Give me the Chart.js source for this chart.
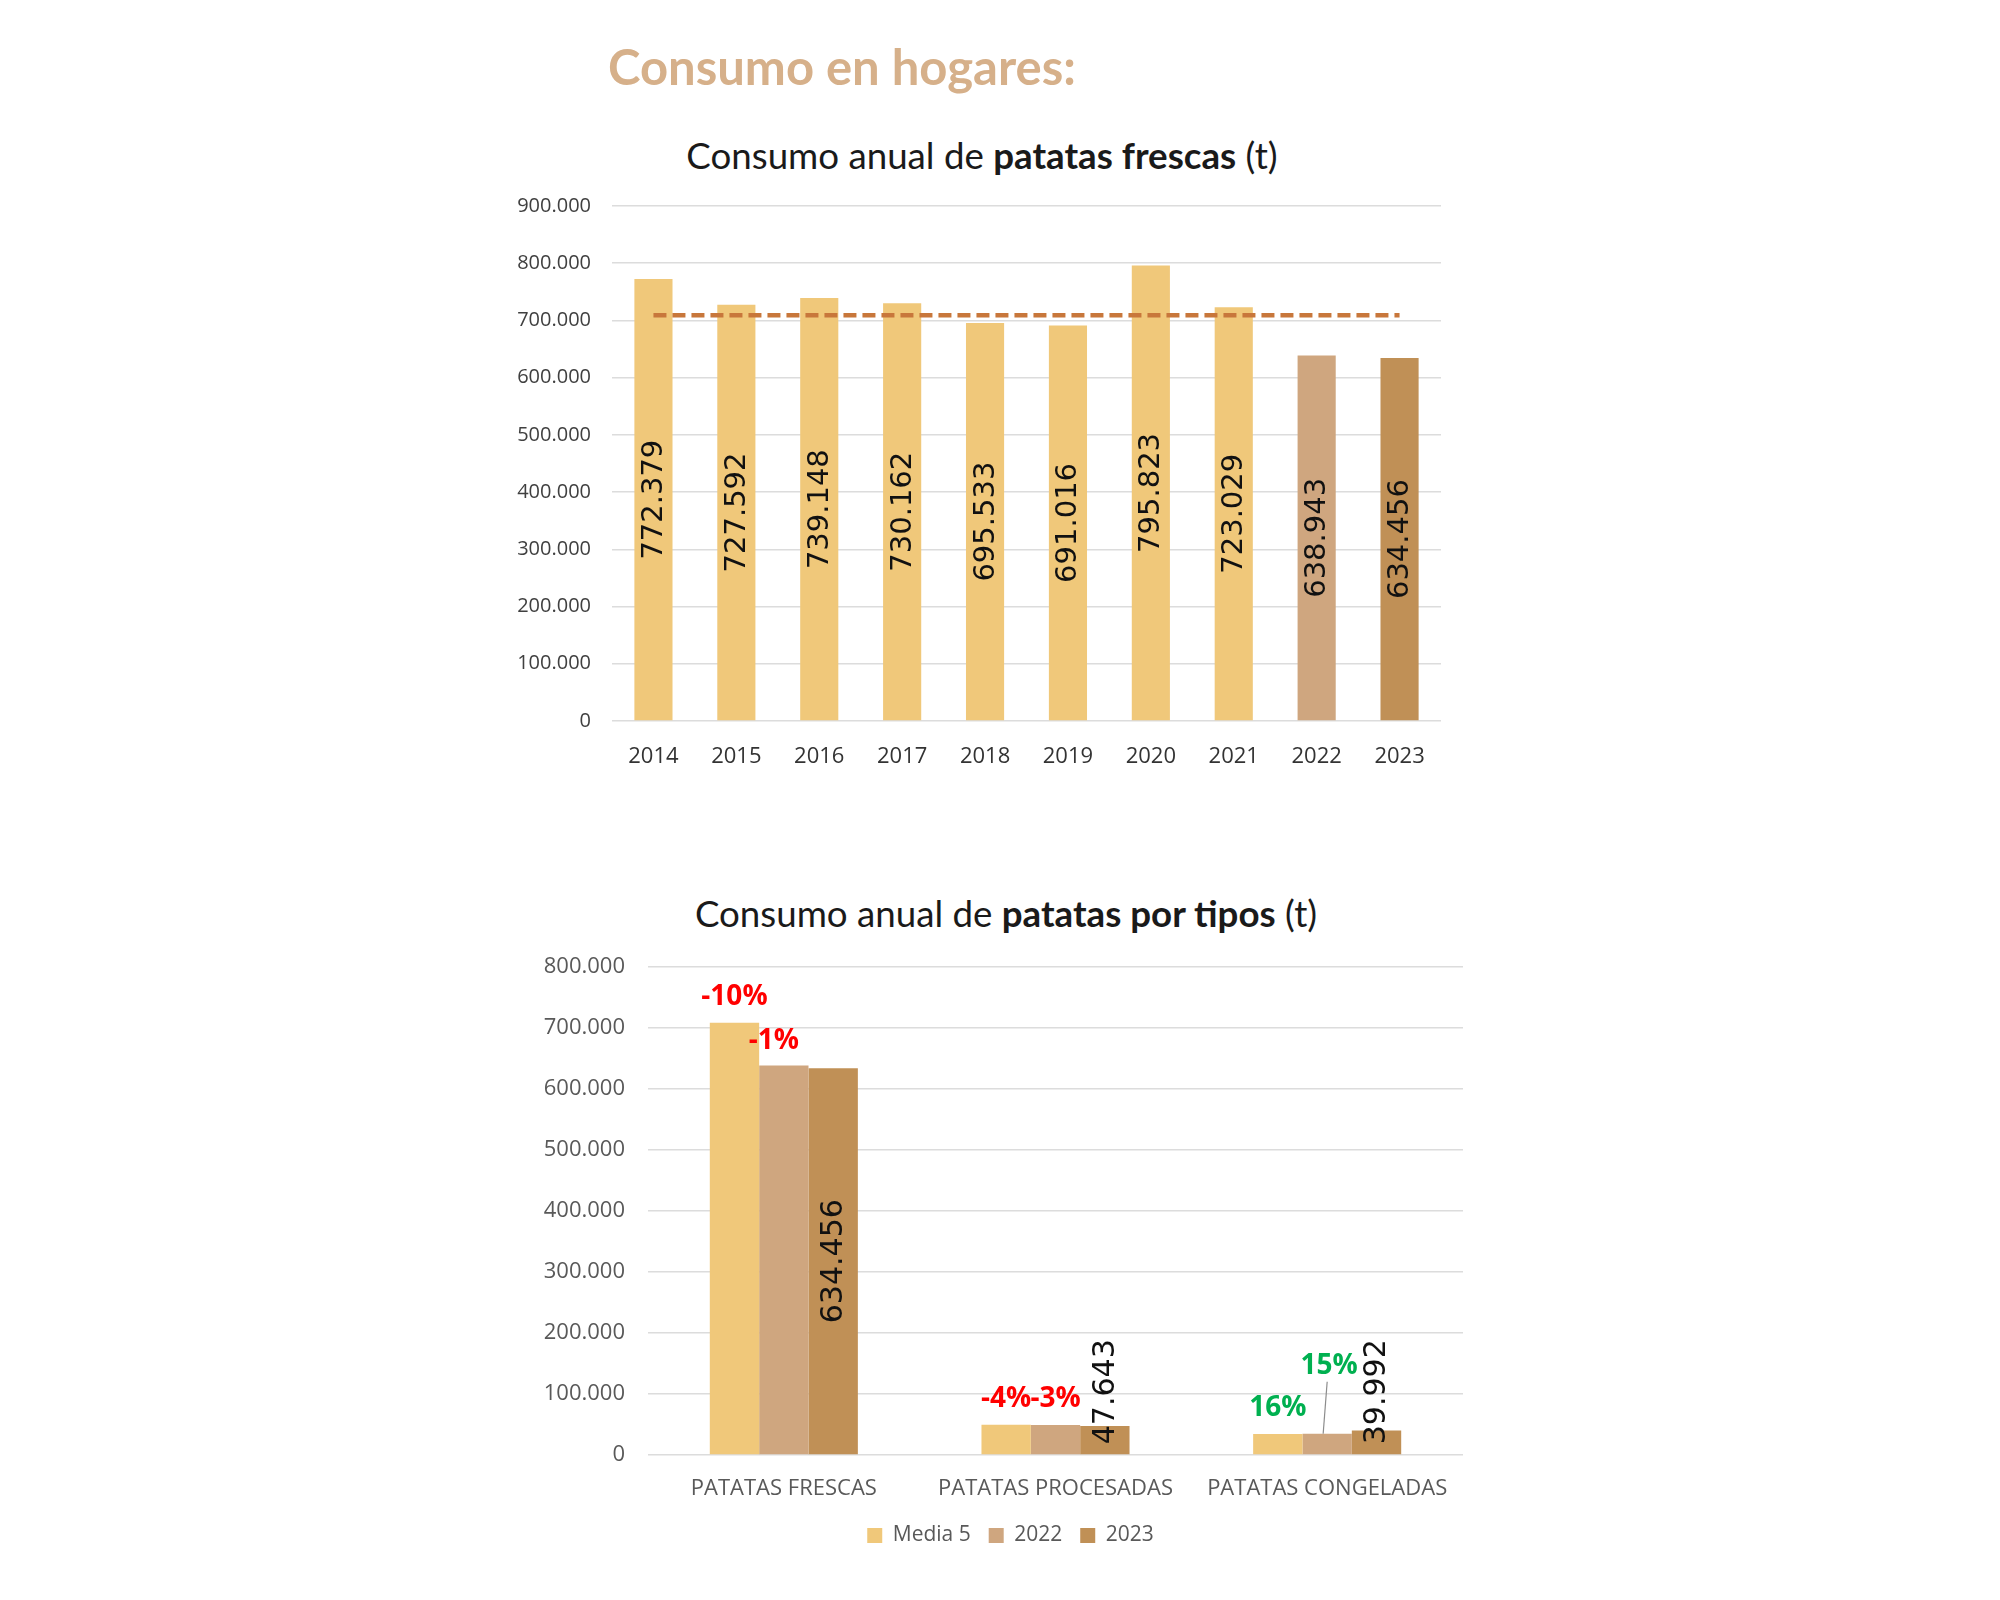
<!DOCTYPE html>
<html>
<head>
<meta charset="utf-8">
<script src="https://cdn.jsdelivr.net/npm/chart.js@4.4.1/dist/chart.umd.min.js"></script>
<style>
  html, body { margin: 0; padding: 0; background: #ffffff; }
  body { width: 2000px; height: 1600px; position: relative; overflow: hidden; }
  .pagetitle { position: absolute; left: 608px; top: 37px; font-family: 'Lato', sans-serif; font-weight: 700; font-size: 49px; line-height: 58px; color: #D6B08A; white-space: nowrap; }
  .ctitle { position: absolute; left: 0; width: 1964px; text-align: center; font-family: 'Lato', sans-serif; font-size: 36.7px; line-height: 44px; color: #1a1a1a; white-space: nowrap; }
  .ctitle b { font-weight: 700; }
  .box { position: absolute; }
</style>
</head>
<body>
<div class="pagetitle">Consumo en hogares:</div>
<div class="ctitle" style="top:133px;">Consumo anual de <b>patatas frescas</b> (t)</div>
<div class="ctitle" style="top:891px; width:2012px;">Consumo anual de <b>patatas por tipos</b> (t)</div>
<div class="box" style="left:500px; top:173px; width:960px; height:599px;"><canvas id="c1"></canvas></div>
<div class="box" style="left:520px; top:931px; width:960px; height:625px;"><canvas id="c2"></canvas></div>
<script>
// ---------- DATA ----------
const years = ['2014','2015','2016','2017','2018','2019','2020','2021','2022','2023'];
const freshValues = [772379, 727592, 739148, 730162, 695533, 691016, 795823, 723029, 638943, 634456];
const media5Line = [708869, 708869, 708869, 708869, 708869, 708869, 708869, 708869, 708869, 708869];

const types = ['PATATAS FRESCAS', 'PATATAS PROCESADAS', 'PATATAS CONGELADAS'];
const seriesNames = ['Media 5', '2022', '2023'];
const media5Values = [708869, 49600, 34500];
const values2022 = [638943, 49100, 34800];
const values2023 = [634456, 47643, 39992];
const pctVsMedia5 = ['-10%', '-4%', '16%'];
const pctVs2022 = ['-1%', '-3%', '15%'];

const topTicks = [0, 100000, 200000, 300000, 400000, 500000, 600000, 700000, 800000, 900000];
const bottomTicks = [0, 100000, 200000, 300000, 400000, 500000, 600000, 700000, 800000];

// ---------- STYLE ----------
const C_LIGHT = '#F0C87A';
const C_2022 = '#CFA67F';
const C_2023 = '#C09056';
const C_DASH = '#C8773B';
const GRID = '#DCDCDC';

function fmt(n) { return String(Math.round(n)).replace(/\B(?=(\d{3})+(?!\d))/g, '.'); }

// rotated value labels inside bars
const valueLabelPlugin = {
  id: 'valueLabels',
  afterDatasetsDraw(chart) {
    const ctx = chart.ctx;
    chart.data.datasets.forEach((ds, di) => {
      if (!ds.showValues) return;
      const meta = chart.getDatasetMeta(di);
      meta.data.forEach((bar, i) => {
        const txt = fmt(ds.data[i]);
        ctx.save();
        ctx.font = ds.valueFont;
        ctx.fillStyle = '#111111';
        const w = ctx.measureText(txt).width;
        let cy = (bar.y + bar.base) / 2;
        if (cy + w / 2 > bar.base - 10) cy = bar.base - 10 - w / 2;
        ctx.translate(bar.x, cy);
        ctx.rotate(-Math.PI / 2);
        ctx.textAlign = 'center';
        ctx.textBaseline = 'middle';
        ctx.fillText(txt, 0, 1);
        ctx.restore();
      });
    });
  }
};

// percentage change labels above bars
const pctPlugin = {
  id: 'pctLabels',
  afterDatasetsDraw(chart) {
    const ctx = chart.ctx;
    chart.data.datasets.forEach((ds, di) => {
      if (!ds.pctLabels) return;
      const meta = chart.getDatasetMeta(di);
      meta.data.forEach((bar, i) => {
        const txt = ds.pctLabels[i];
        const off = (ds.pctOffsets && ds.pctOffsets[i]) || { dx: 0, dy: -26 };
        const x = bar.x + off.dx, y = bar.y + off.dy;
        ctx.save();
        if (off.leader) {
          ctx.strokeStyle = '#8c8c8c';
          ctx.lineWidth = 1.2;
          ctx.beginPath();
          ctx.moveTo(x - 2, y + 16);
          ctx.lineTo(bar.x - 4, bar.y);
          ctx.stroke();
        }
        ctx.font = 'bold 28px "Open Sans", sans-serif';
        ctx.fillStyle = txt.trim().startsWith('-') ? '#FF0000' : '#00B050';
        ctx.textAlign = 'center';
        ctx.textBaseline = 'middle';
        ctx.fillText(txt, x, y);
        ctx.restore();
      });
    });
  }
};

// ---------- CHART 1 ----------
new Chart(document.getElementById('c1'), {
  type: 'bar',
  data: {
    labels: years,
    datasets: [
      {
        type: 'line', label: 'Media 5', data: media5Line, order: 0,
        borderColor: C_DASH, borderWidth: 4.5, borderDash: [13, 6],
        pointRadius: 0, fill: false, tension: 0
      },
      {
        type: 'bar', label: 'Consumo', data: freshValues, order: 1,
        backgroundColor: years.map((y, i) => i < 8 ? C_LIGHT : (i === 8 ? C_2022 : C_2023)),
        categoryPercentage: 1.0, barPercentage: 0.46,
        showValues: true, valueFont: '29px "DejaVu Sans", sans-serif'
      }
    ]
  },
  options: {
    responsive: true, maintainAspectRatio: false, animation: false,
    layout: { padding: { top: 0, right: 19, left: 0, bottom: 0 } },
    plugins: { legend: { display: false }, tooltip: { enabled: false }, title: { display: false } },
    scales: {
      x: {
        grid: { display: false }, border: { display: false },
        ticks: { color: '#333333', font: { family: 'Open Sans', size: 22 }, padding: 15 },
        afterFit(s) { s.height = 51; }
      },
      y: {
        min: 0, max: 900000,
        afterBuildTicks(s) { s.ticks = topTicks.map(v => ({ value: v })); },
        grid: { color: GRID, lineWidth: 1.5, drawTicks: false }, border: { display: false },
        ticks: { color: '#404040', font: { family: 'Open Sans', size: 20 }, padding: 21, callback: v => fmt(v) },
        afterFit(s) { s.width = 112; }
      }
    }
  },
  plugins: [valueLabelPlugin]
});

// ---------- CHART 2 ----------
new Chart(document.getElementById('c2'), {
  type: 'bar',
  data: {
    labels: types,
    datasets: [
      {
        label: seriesNames[0], data: media5Values, backgroundColor: C_LIGHT,
        pctLabels: pctVsMedia5
      },
      {
        label: seriesNames[1], data: values2022, backgroundColor: C_2022,
        pctLabels: pctVs2022,
        pctOffsets: [{ dx: -10, dy: -24 }, { dx: 0, dy: -26 }, { dx: 2, dy: -68, leader: true }]
      },
      {
        label: seriesNames[2], data: values2023, backgroundColor: C_2023,
        showValues: true, valueFont: '30px "DejaVu Sans", sans-serif'
      }
    ]
  },
  options: {
    responsive: true, maintainAspectRatio: false, animation: false,
    datasets: { bar: { categoryPercentage: 0.545, barPercentage: 1.0 } },
    layout: { padding: { top: 0, right: 17, left: 38, bottom: 0 } },
    plugins: {
      tooltip: { enabled: false },
      legend: {
        position: 'bottom',
        labels: { boxWidth: 15, boxHeight: 15, padding: 18, color: '#595959', font: { family: 'Open Sans', size: 21 } }
      }
    },
    scales: {
      x: {
        grid: { display: false }, border: { display: false },
        ticks: { color: '#595959', font: { family: 'Open Sans', size: 22 }, padding: 13 },
        afterFit(s) { s.height = 52; }
      },
      y: {
        min: 0, max: 800000,
        afterBuildTicks(s) { s.ticks = bottomTicks.map(v => ({ value: v })); },
        grid: { color: GRID, lineWidth: 1.5, drawTicks: false }, border: { display: false },
        ticks: { color: '#595959', font: { family: 'Open Sans', size: 22 }, padding: 23, callback: v => fmt(v) },
        afterFit(s) {
          s.width = 90;
          // let the tick labels extend into the layout padding instead of being clipped
          s._computeLabelArea = function () { return undefined; };
        }
      }
    }
  },
  plugins: [valueLabelPlugin, pctPlugin]
});
</script>
</body>
</html>
